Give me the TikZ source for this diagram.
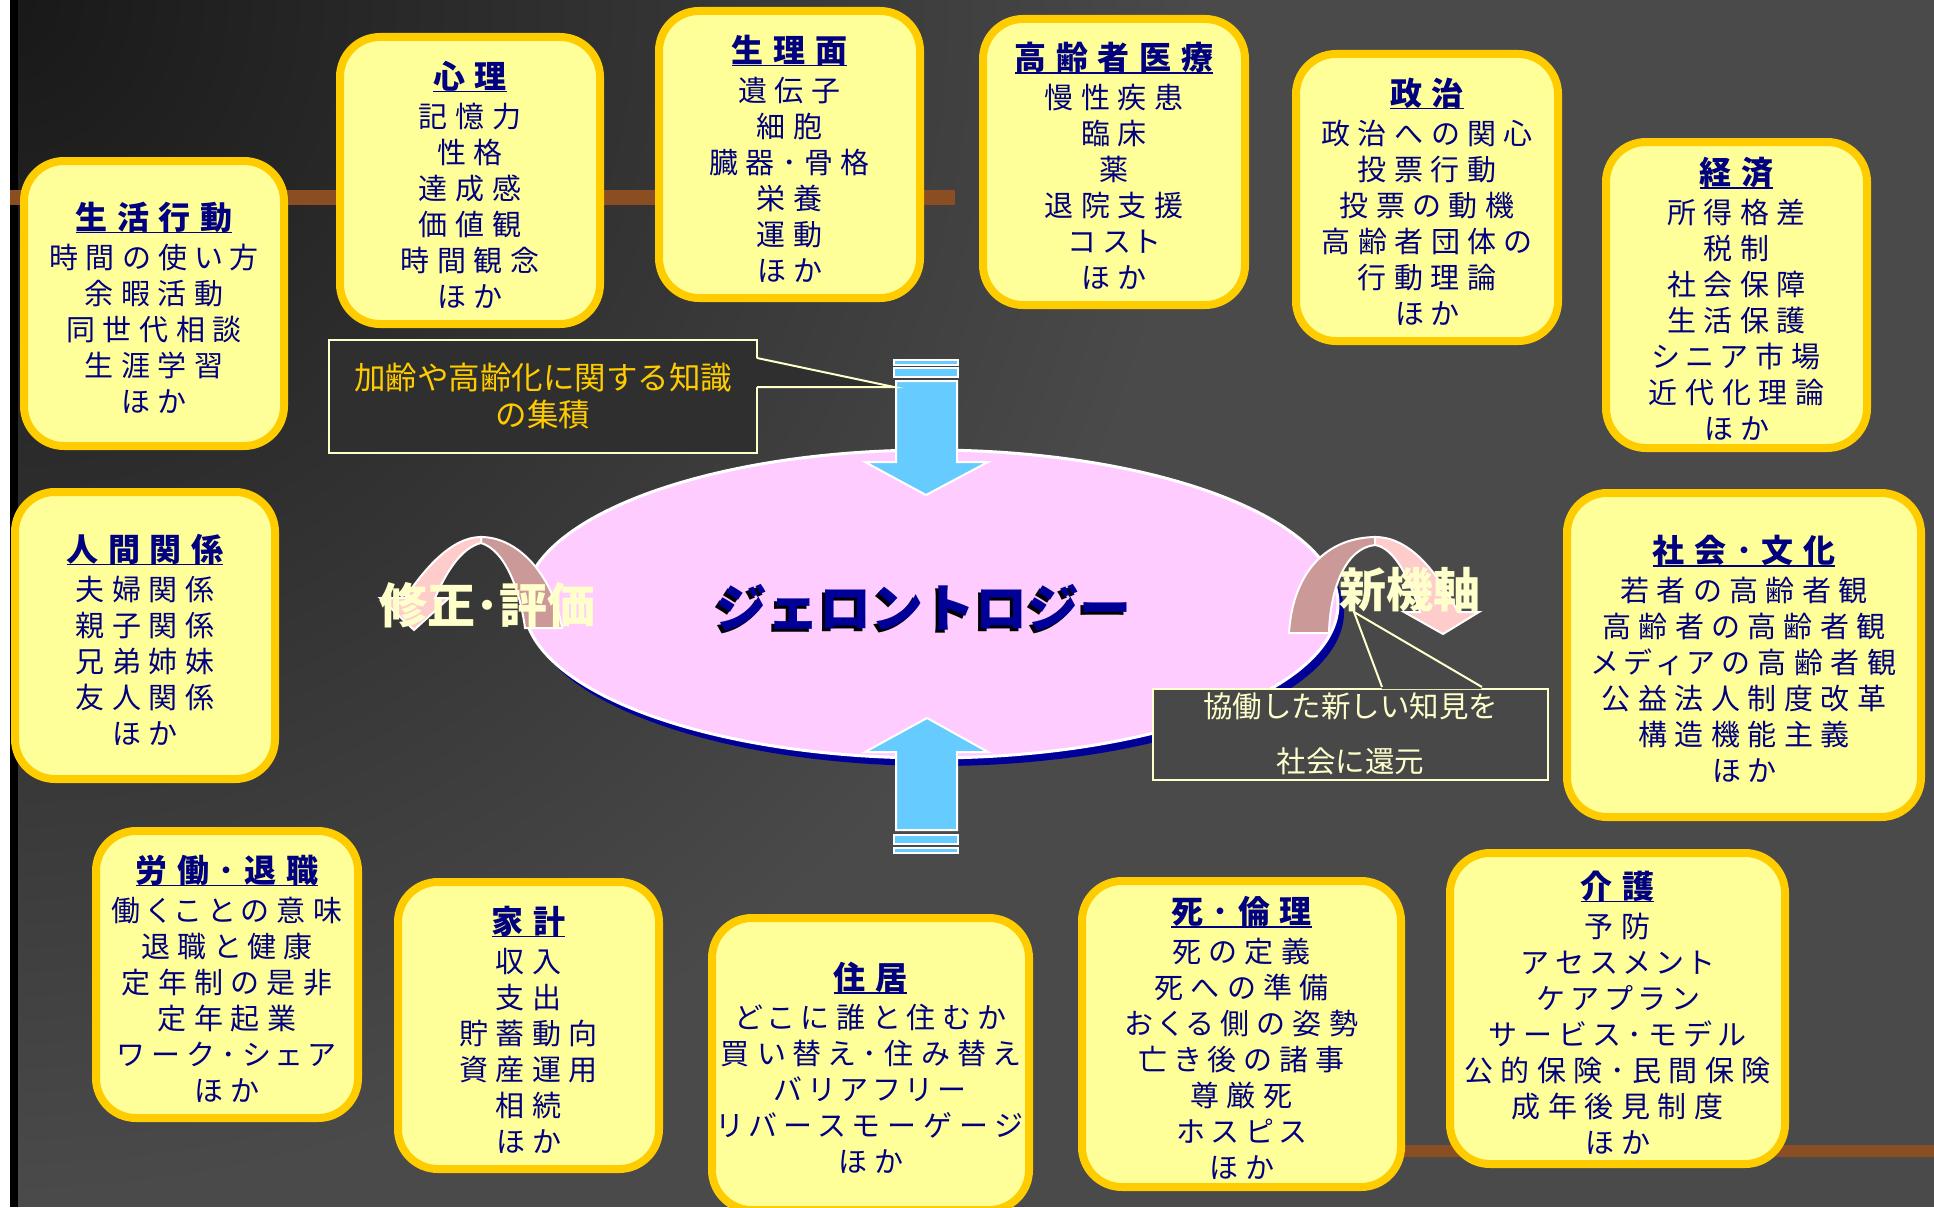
\documentclass[tikz,border=0pt]{standalone}
\usepackage{fontspec}
\usetikzlibrary{shapes.geometric}
\newfontfamily\jpw[LetterSpace=26,RawFeature=+palt]{Noto Sans CJK JP}
\newfontfamily\jpt[LetterSpace=30,RawFeature=+palt]{Noto Sans CJK JP}
\newfontfamily\jpn{Noto Sans CJK JP}
\definecolor{txtnavy}{HTML}{000080}
\definecolor{shadownavy}{HTML}{000099}
\definecolor{boxfill}{HTML}{FFFF99}
\definecolor{boxborder}{HTML}{FFCC00}
\definecolor{pinkel}{HTML}{FFCCFF}
\definecolor{archdark}{HTML}{CC9999}
\definecolor{archpink}{HTML}{FFCCCC}
\definecolor{skyb}{HTML}{66CCFF}
\definecolor{cream}{HTML}{FFFFCC}
\definecolor{gold}{HTML}{FFCC00}
\definecolor{bgc}{HTML}{4A4A4A}
\definecolor{bgdark}{HTML}{181818}
\definecolor{stripec}{HTML}{8A4E22}
\definecolor{callfa}{HTML}{2F2F2F}
\definecolor{callfb}{HTML}{484848}
\newcommand\bodyfont{\jpw\fontsize{29}{36}\selectfont}
\newcommand\ttl[1]{{\jpt\bfseries\fontsize{32}{36}\selectfont\setbox0\hbox{#1}\rule{0pt}{36pt}\rlap{\rule[-4pt]{\wd0}{1.5pt}}\box0}}
\tikzset{
  topic/.style={draw=boxborder, line width=8pt, fill=boxfill, rounded corners=40pt,
    align=center, text=txtnavy, font=\bodyfont, inner sep=0pt},
  callout/.style={draw=cream, line width=2pt, align=center, inner sep=0pt},
  bluearrow/.style={fill=skyb, draw=white, line width=2pt, line join=miter},
  archband/.style={draw=white, line width=2pt}
}
\begin{document}
\begin{tikzpicture}[x=1pt,y=-1pt]
\useasboundingbox (0,0) rectangle (1934,1207);
\clip (0,0) rectangle (1934,1207);
% background
\fill[bgc] (0,0) rectangle (1934,1207);
\shade[inner color=bgdark, outer color=bgc] (0,0) circle (1200);
\fill[white] (0,0) rectangle (10,1207);
\fill[black] (10,0) rectangle (18,1207);
\fill[stripec] (10,190) rectangle (955,205);
\fill[stripec] (1380,1145) rectangle (1934,1157);

% topic boxes
\node[topic, minimum width=260, minimum height=285] (seikatsu) at (154,303.5)
  {\ttl{生活行動}\\[3pt]時間の使い方\\余暇活動\\同世代相談\\生涯学習\\ほか};
\node[topic, minimum width=260, minimum height=287] (shinri) at (470,180.5)
  {\ttl{心理}\\[3pt]記憶力\\性格\\達成感\\価値観\\時間観念\\ほか};
\node[topic, minimum width=261, minimum height=287] (seiri) at (789.5,154.5)
  {\ttl{生理面}\\[3pt]遺伝子\\細胞\\臓器･骨格\\栄養\\運動\\ほか};
\node[topic, minimum width=262, minimum height=286] (iryo) at (1114,162)
  {\ttl{高齢者医療}\\[3pt]慢性疾患\\臨床\\薬\\退院支援\\コスト\\ほか};
\node[topic, minimum width=262, minimum height=287] (seiji) at (1427,197.5)
  {\ttl{政治}\\[3pt]政治への関心\\投票行動\\投票の動機\\高齢者団体の\\行動理論\\ほか};
\node[topic, minimum width=261, minimum height=306] (keizai) at (1736.5,295)
  {\ttl{経済}\\[3pt]所得格差\\税制\\社会保障\\生活保護\\シニア市場\\近代化理論\\ほか};
\node[topic, minimum width=260, minimum height=287] (ningen) at (145,635.5)
  {\ttl{人間関係}\\[3pt]夫婦関係\\親子関係\\兄弟姉妹\\友人関係\\ほか};
\node[topic, minimum width=354, minimum height=324] (shakai) at (1744,655)
  {\ttl{社会･文化}\\[3pt]若者の高齢者観\\高齢者の高齢者観\\メディアの高齢者観\\公益法人制度改革\\構造機能主義\\ほか};
\node[topic, minimum width=262, minimum height=287] (rodo) at (227,974.5)
  {\ttl{労働･退職}\\[3pt]働くことの意味\\退職と健康\\定年制の是非\\定年起業\\ワーク･シェア\\ほか};
\node[topic, minimum width=261, minimum height=287] (kakei) at (528.5,1025.5)
  {\ttl{家計}\\[3pt]収入\\支出\\貯蓄動向\\資産運用\\相続\\ほか};
\node[topic, minimum width=317, minimum height=292] (jukyo) at (870.5,1064)
  {\ttl{住居}\\[3pt]どこに誰と住むか\\買い替え･住み替え\\バリアフリー\\リバースモーゲージ\\ほか};
\node[topic, minimum width=319, minimum height=306] (shi) at (1241.5,1034)
  {\ttl{死･倫理}\\[3pt]死の定義\\死への準備\\おくる側の姿勢\\亡き後の諸事\\尊厳死\\ホスピス\\ほか};
\node[topic, minimum width=335, minimum height=311] (kaigo) at (1617.5,1008.5)
  {\ttl{介護}\\[3pt]予防\\アセスメント\\ケアプラン\\サービス･モデル\\公的保険･民間保険\\成年後見制度\\ほか};

% central ellipse
\fill[shadownavy] (937,612) ellipse [x radius=407, y radius=154];
\node[ellipse, fill=pinkel, draw=white, line width=3pt, minimum width=814, minimum height=308, inner sep=0pt] (core) at (931,604) {};

% left arch (修正・評価)
\filldraw[archband, fill=archdark] (525,628) .. controls (520,590) and (505,550) .. (481,543)
  -- (481,537) .. controls (518,537) and (553,575) .. (562,628) -- cycle;
\filldraw[archband, fill=archpink] (481,537) .. controls (452,537) and (425,568) .. (405,598)
  -- (380,598) -- (414,630) -- (449,598) -- (435,598) .. controls (445,575) and (460,548) .. (481,543) -- cycle;
% right arch (新機軸)
\filldraw[archband, fill=archdark] (1289,633) .. controls (1292,580) and (1320,538) .. (1375,537)
  -- (1375,545) .. controls (1345,548) and (1330,590) .. (1329,633) -- cycle;
\filldraw[archband, fill=archpink] (1375,537) .. controls (1410,537) and (1437,572) .. (1458,612)
  -- (1479,612) -- (1443,634) -- (1404,612) -- (1420,612) .. controls (1410,580) and (1395,548) .. (1375,545) -- cycle;

% central labels
\node[text=black, font=\jpn\bfseries\fontsize{52}{56}\selectfont] (coretextshadow) at (920.5,610.5) {ジェロントロジー};
\node[text=shadownavy, font=\jpn\bfseries\fontsize{52}{56}\selectfont] (coretext) at (923,608) {ジェロントロジー};
\node[text=cream, font=\jpn\bfseries\fontsize{48}{52}\selectfont] (revise) at (487,605) {修正･評価};
\node[text=cream, font=\jpn\bfseries\fontsize{47}{52}\selectfont] (newaxis) at (1410,590) {新機軸};

% blue arrows
\filldraw[bluearrow] (896,381) -- (957,381) -- (957,462) -- (988,462) -- (926,495) -- (865,462) -- (896,462) -- cycle;
\filldraw[bluearrow, line width=1.5pt] (894,368) rectangle (958,377);
\filldraw[bluearrow, line width=1.5pt] (894,360) rectangle (958,365);
\filldraw[bluearrow] (896,830) -- (957,830) -- (957,752) -- (988,752) -- (927,718) -- (865,752) -- (896,752) -- cycle;
\filldraw[bluearrow, line width=1.5pt] (894,835) rectangle (958,844);
\filldraw[bluearrow, line width=1.5pt] (894,848) rectangle (958,853);

% callout 1
\node[callout, fill=callfa, minimum width=428, minimum height=113, text=gold,
  font=\jpn\fontsize{31.5}{37}\selectfont] (call1) at (543,396.5) {加齢や高齢化に関する知識\\の集積};
\coordinate (c1a) at (757,358);
\coordinate (c1b) at (757,387);
\coordinate (c1tip) at (894,387);
\fill[callfa] (755,358) -- (c1tip) -- (755,387) -- cycle;
\draw[cream, line width=2pt] (c1a) -- (c1tip) -- (c1b);

% callout 2
\node[callout, fill=callfb, minimum width=395, minimum height=91, text=cream,
  font=\jpn\fontsize{29.5}{55}\selectfont] (call2) at (1350.5,734) {協働した新しい知見を\\社会に還元};
\coordinate (c2a) at (1382,687);
\coordinate (c2b) at (1482,687);
\coordinate (c2tip) at (1354,612);
\fill[callfb] (1382,689) -- (c2tip) -- (1482,689) -- cycle;
\draw[cream, line width=2pt] (c2a) -- (c2tip) -- (c2b);
\end{tikzpicture}
\end{document}
